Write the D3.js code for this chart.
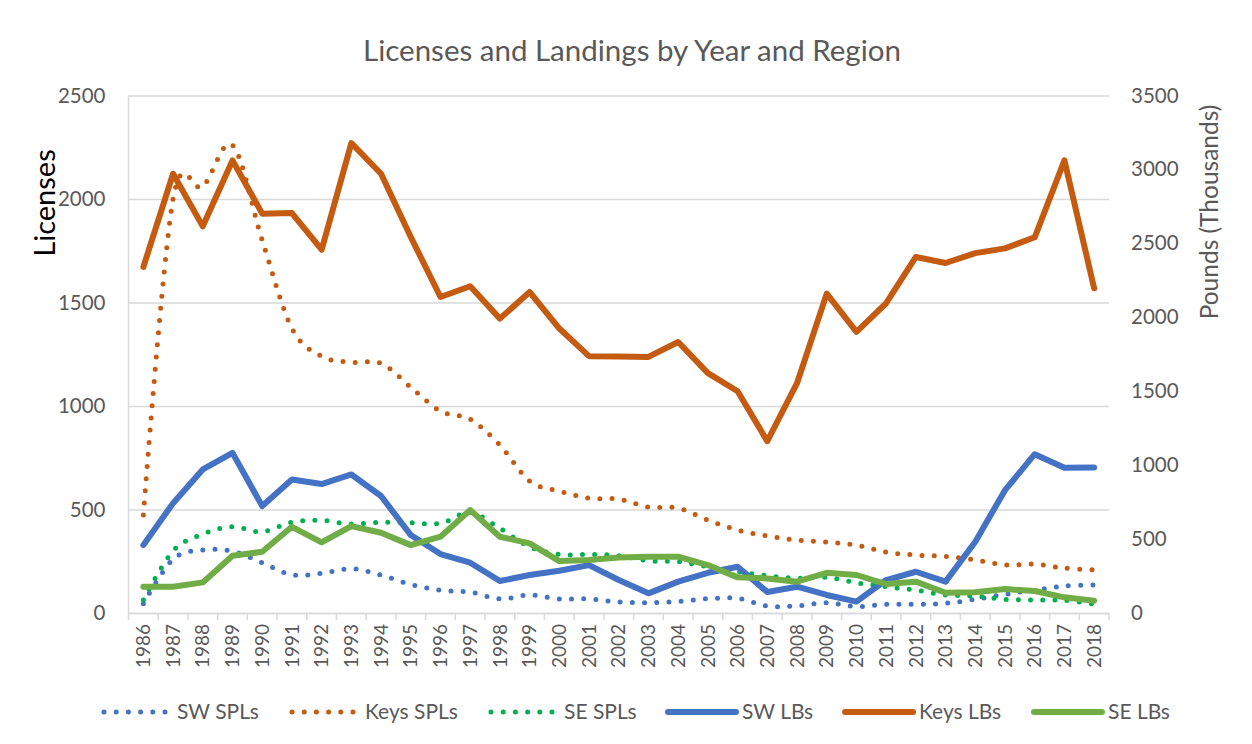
<!DOCTYPE html>
<html>
<head>
<meta charset="utf-8">
<script src="https://cdn.jsdelivr.net/npm/d3@7"></script>
<style>
  body { margin: 0; background: #fff; }
  text { font-family: Lato, "Open Sans", sans-serif; }
</style>
</head>
<body>
<svg id="canvas"></svg>
<script>
let years = ["1986","1987","1988","1989","1990","1991","1992","1993","1994","1995","1996","1997","1998","1999","2000","2001","2002","2003","2004","2005","2006","2007","2008","2009","2010","2011","2012","2013","2014","2015","2016","2017","2018"]

// licenses (left axis)
let swSPL = [45,260,304,299,243,185,192,214,183,138,110,101,68,87,68,68,53,50,56,69,71,34,34,50,31,42,42,47,66,90,111,130,135]
let keysSPL = [473,2000,2060,2260,1800,1375,1240,1211,1206,1091,975,936,811,637,589,555,550,512,507,449,401,372,352,343,328,294,280,273,256,232,236,217,208]
let seSPL = [63,300,381,417,392,439,447,430,438,436,433,485,409,320,283,283,277,252,248,224,200,180,168,172,146,127,111,87,82,66,63,61,43]

// landings, pounds in thousands (right axis)
let swLB = [459,743,971,1083,723,903,872,937,791,527,399,340,216,257,286,324,223,133,212,272,313,142,178,122,77,223,279,212,482,831,1074,982,984]
let keysLB = [2340,2971,2615,3061,2701,2705,2457,3178,2971,2543,2137,2210,1991,2171,1924,1737,1735,1732,1833,1622,1500,1162,1554,2160,1901,2095,2408,2367,2434,2466,2541,3061,2196]
let seLB = [178,178,207,387,414,583,478,588,543,459,516,696,516,471,351,358,376,381,381,324,241,234,212,272,257,196,212,137,140,162,149,106,83]

let leftTicks = [0,500,1000,1500,2000,2500]
let rightTicks = [0,500,1000,1500,2000,2500,3000,3500]

let width = 1252
let height = 744
let plotLeft = 128.5
let plotRight = 1109
let plotTop = 95.5
let plotBottom = 613

let blue = "#4472C4"
let orange = "#C55A11"
let green = "#70AD47"
let greenDot = "#00B050"
let grey = "#595959"

let canvas = d3.select("#canvas")
  .attr("width", width)
  .attr("height", height)

let xBand = d3.scaleBand().domain(years).range([plotLeft, plotRight])
let xScale = y => xBand(y) + xBand.bandwidth() / 2
let yLeft = d3.scaleLinear().domain([0, 2500]).range([plotBottom, plotTop])
let yRight = d3.scaleLinear().domain([0, 3500]).range([plotBottom, plotTop])

let series = [
  {name: "SW SPLs", values: swSPL, axis: "left", color: blue, dotted: true},
  {name: "Keys SPLs", values: keysSPL, axis: "left", color: orange, dotted: true},
  {name: "SE SPLs", values: seSPL, axis: "left", color: greenDot, dotted: true},
  {name: "SW LBs", values: swLB, axis: "right", color: blue, dotted: false},
  {name: "Keys LBs", values: keysLB, axis: "right", color: orange, dotted: false},
  {name: "SE LBs", values: seLB, axis: "right", color: green, dotted: false}
]

// gridlines
canvas.append("g")
  .attr("transform", "translate(" + plotLeft + ",0)")
  .call(d3.axisLeft(yLeft).tickValues(leftTicks).tickSize(-(plotRight - plotLeft)).tickFormat(""))
  .call(g => g.select(".domain").remove())
  .call(g => g.selectAll("line").attr("stroke", "#D9D9D9").attr("stroke-width", 1.5))

// left axis vertical line
canvas.append("line")
  .attr("x1", plotLeft).attr("x2", plotLeft)
  .attr("y1", plotTop).attr("y2", plotBottom)
  .attr("stroke", "#D9D9D9").attr("stroke-width", 1.5)

// left axis labels
canvas.append("g")
  .attr("transform", "translate(" + plotLeft + ",0)")
  .call(d3.axisLeft(yLeft).tickValues(leftTicks).tickSize(0).tickPadding(23).tickFormat(d3.format("d")))
  .call(g => g.select(".domain").remove())
  .call(g => g.selectAll("text").attr("fill", grey).style("font-size", "20.5px"))

// right axis labels
canvas.append("g")
  .attr("transform", "translate(" + plotRight + ",0)")
  .call(d3.axisRight(yRight).tickValues(rightTicks).tickSize(0).tickPadding(22).tickFormat(d3.format("d")))
  .call(g => g.select(".domain").remove())
  .call(g => g.selectAll("text").attr("fill", grey).style("font-size", "20.5px"))

// x axis
let xAxis = canvas.append("g")
  .attr("transform", "translate(0," + plotBottom + ")")
  .call(d3.axisBottom(xBand).tickSize(0).tickPadding(0))

xAxis.select(".domain").attr("stroke", "#D9D9D9").attr("stroke-width", 1.5)
xAxis.selectAll("text")
  .attr("fill", grey)
  .style("font-size", "19px")
  .attr("text-anchor", "end")
  .attr("transform", "rotate(-90)")
  .attr("x", -11)
  .attr("y", 0)
  .attr("dy", "0.35em")

// category separators
let bounds = years.map(y => xBand(y)).concat([plotRight])
canvas.append("g").selectAll("line")
  .data(bounds)
  .enter()
  .append("line")
  .attr("x1", d => d).attr("x2", d => d)
  .attr("y1", plotBottom).attr("y2", plotBottom + 7)
  .attr("stroke", "#D9D9D9").attr("stroke-width", 1.5)

// lines
let drawLine = s => {
  let yScale = s.axis == "left" ? yLeft : yRight
  let gen = d3.line()
    .x((v, i) => xScale(years[i]))
    .y(v => yScale(v))
  if (s.dotted) gen.curve(d3.curveCatmullRom.alpha(0))
  let path = canvas.append("path")
    .datum(s.values)
    .attr("fill", "none")
    .attr("stroke", s.color)
    .attr("stroke-linecap", "round")
    .attr("stroke-linejoin", "round")
    .attr("d", gen)
  if (s.dotted) {
    path.attr("stroke-width", 5).attr("stroke-dasharray", "0 12.2")
  } else {
    path.attr("stroke-width", 6)
  }
}
series.forEach(drawLine)

// title
canvas.append("text")
  .attr("x", 632)
  .attr("y", 61)
  .attr("text-anchor", "middle")
  .attr("fill", grey)
  .style("font-size", "29.5px")
  .text("Licenses and Landings by Year and Region")

canvas.append("text")
  .attr("transform", "translate(55,203) rotate(-90)")
  .attr("text-anchor", "middle")
  .attr("fill", "#000")
  .style("font-size", "29px")
  .text("Licenses")

canvas.append("text")
  .attr("transform", "translate(1218,212) rotate(-90)")
  .attr("text-anchor", "middle")
  .attr("fill", grey)
  .style("font-size", "24.5px")
  .text("Pounds (Thousands)")

// legend
let legendX = [102, 290, 489, 668, 845, 1034]
let legend = canvas.append("g").selectAll("g")
  .data(series)
  .enter()
  .append("g")
  .attr("transform", (d, i) => "translate(" + legendX[i] + ",712)")

legend.append("line")
  .attr("x1", d => d.dotted ? 2 : 0)
  .attr("x2", d => d.dotted ? 63 : 68)
  .attr("stroke", d => d.color)
  .attr("stroke-linecap", "round")
  .attr("stroke-width", d => d.dotted ? 5 : 6)
  .attr("stroke-dasharray", d => d.dotted ? "0 12.2" : null)

legend.append("text")
  .attr("x", d => d.dotted ? 75 : 74)
  .attr("y", 0)
  .attr("dy", "0.35em")
  .attr("fill", grey)
  .style("font-size", "21px")
  .text(d => d.name)
</script>
</body>
</html>
